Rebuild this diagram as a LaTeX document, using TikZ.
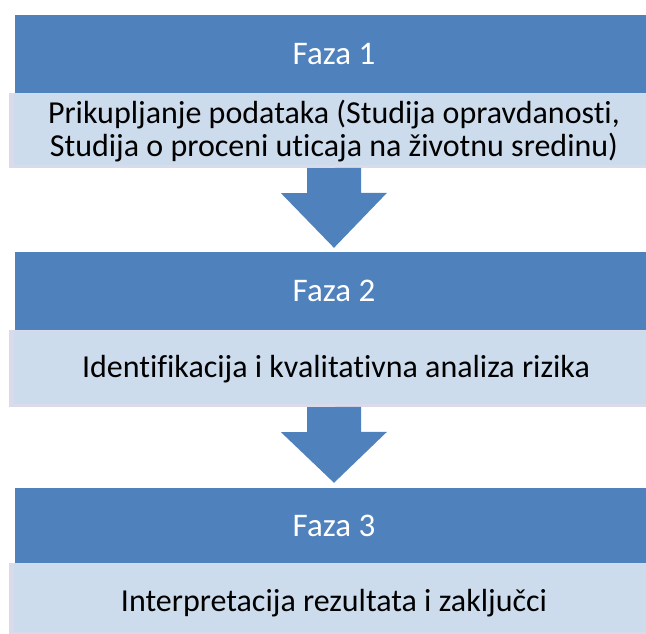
\documentclass[tikz,border=0pt]{standalone}
\usepackage{fontspec}
\setmainfont[Ligatures=NoCommon]{Carlito}
\definecolor{hdrblue}{HTML}{4F81BD}
\definecolor{bodyblue}{HTML}{CCDCEC}
\definecolor{bodyedge}{HTML}{DADAEB}
\begin{document}
\begin{tikzpicture}[x=1pt,y=1pt,
  hdr/.style={fill=hdrblue, draw=none, minimum width=638pt, inner sep=0pt, text=white, font=\fontsize{33}{36}\selectfont},
  bodyout/.style={fill=bodyedge, draw=none, minimum width=650pt, inner sep=0pt},
  bodyin/.style={fill=bodyblue, draw=none, minimum width=640pt, inner sep=0pt},
  bodytext/.style={anchor=base, inner sep=0pt, align=center, text=black, font=\fontsize{32}{33}\selectfont},
  blockarrow/.style={fill=hdrblue, draw=none}]
\useasboundingbox (0,0) rectangle (646,-633);
\clip (0,0) rectangle (646,-633);
% Phase 1
\node[hdr, minimum height=78pt] (h1) at (334,-54) {Faza 1};
\node[bodyout, minimum height=75pt] (b1o) at (334,-130.5) {};
\node[bodyin, minimum height=71pt] (b1) at (334,-129.5) {};
\node[bodytext] (t1) at (334,-156) {Prikupljanje podataka (Studija opravdanosti,\\Studija o proceni uticaja na životnu sredinu)};
% Phase 2
\node[hdr, minimum height=78pt] (h2) at (334,-291) {Faza 2};
\node[bodyout, minimum height=77pt] (b2o) at (334,-368.5) {};
\node[bodyin, minimum height=73pt] (b2) at (334,-367.5) {};
\node[bodytext] (t2) at (336,-377) {Identifikacija i kvalitativna analiza rizika};
% Phase 3
\node[hdr, minimum height=75pt] (h3) at (334,-525.5) {Faza 3};
\node[bodyout, minimum height=72pt] (b3o) at (334,-599) {};
\node[bodyin, minimum height=68pt] (b3) at (334,-598) {};
\node[bodytext] (t3) at (334,-611.5) {Interpretacija rezultata i zaključci};
% Arrows
\path (h2.north) ++(0,4) coordinate (a1);
\path (h3.north) ++(0,5) coordinate (a2);
\fill[blockarrow] (b1o.south) ++(-27,0) -- ++(0,-25) -- ++(-26,0) -- (a1) -- ++(53,55) -- ++(-26,0) -- ++(0,25) -- cycle;
\fill[blockarrow] (b2o.south) ++(-27,0) -- ++(0,-25) -- ++(-26,0) -- (a2) -- ++(53,51) -- ++(-26,0) -- ++(0,25) -- cycle;
\end{tikzpicture}
\end{document}
